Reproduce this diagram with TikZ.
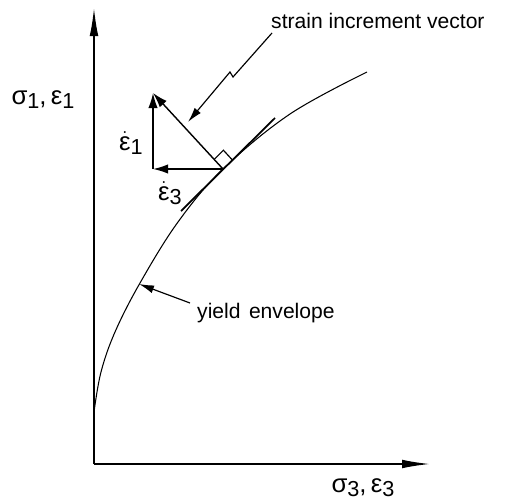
\documentclass[tikz,border=0pt]{standalone}
\usepackage{amsmath}
\usepackage{fontspec}
\setmainfont{Liberation Sans}
\usetikzlibrary{arrows.meta}
\newcommand{\lowdig}[1]{\raisebox{-0.3ex}{\fontsize{18.5}{20}\selectfont #1}}
\newcommand{\epsdot}{\ensuremath{\dot{\text{ε}}}}

\begin{document}
\begin{tikzpicture}[
    x=0.03cm, y=-0.03cm,
    axis/.style={line width=1.3pt, -{Latex[length=0.84cm, width=0.26cm]}},
    vec/.style={line width=1.2pt, -{Latex[length=0.45cm, width=0.28cm]}},
    lead/.style={line width=1pt, -{Latex[length=0.45cm, width=0.24cm]}},
    lbl/.style={font=\fontsize{18}{20}\selectfont, inner sep=0pt},
    sym/.style={font=\fontsize{22}{24}\selectfont, inner sep=0pt}
]
\useasboundingbox (0,0) rectangle (513,503);
% axes
\coordinate (o) at (94,464);
\coordinate (ytip) at (94,8);
\coordinate (xtip) at (430,464);
\draw[axis] (o) -- (ytip);
\draw[axis] (o) -- (xtip);
\node[sym] (ylab) at (43,100) {σ\lowdig{1},\,ε\lowdig{1}};
\node[sym] (xlab) at (363,488) {σ\lowdig{3},\,ε\lowdig{3}};

% yield envelope and tangent
\coordinate (p) at (223,169);
\draw[line width=0.9pt] plot[smooth, tension=0.6] coordinates
    {(94,412) (101,372) (115,332) (140,283) (178,222) (p) (290,114) (367,72)};
\coordinate (t1) at (181,211);
\coordinate (t2) at (275,118);
\draw[line width=1.5pt] (t1) -- (t2);
\draw[line width=1pt] (p) ++(9.2,-9.2) -- ++(-8.8,-9.6) -- ++(-9.2,9.2);

% strain increment and its components
\coordinate (q) at (153,169);
\coordinate (v) at (153,93);
\draw[vec] (p) -- (v);
\draw[vec] (p) -- (q);
\draw[vec] (q) -- (v);
\node[sym] (e1) at (131,143) {\epsdot\lowdig{1}};
\node[sym] (e3) at (170,193) {\epsdot\lowdig{3}};

% labels with leaders
\node[lbl, anchor=west] (sl) at (271,21) {strain increment vector};
\coordinate (s0) at (272,33);
\coordinate (z1) at (233,77);
\coordinate (z2) at (230,72);
\coordinate (stip) at (188,122);
\draw[lead] (s0) -- (z1) -- (z2) -- (stip);

\node[lbl, anchor=west] (yl) at (197,313) {yield\hspace{0.4em}envelope};
\coordinate (y0) at (190,303);
\coordinate (ytp) at (139,284);
\draw[lead] (y0) -- (ytp);
\end{tikzpicture}
\end{document}
